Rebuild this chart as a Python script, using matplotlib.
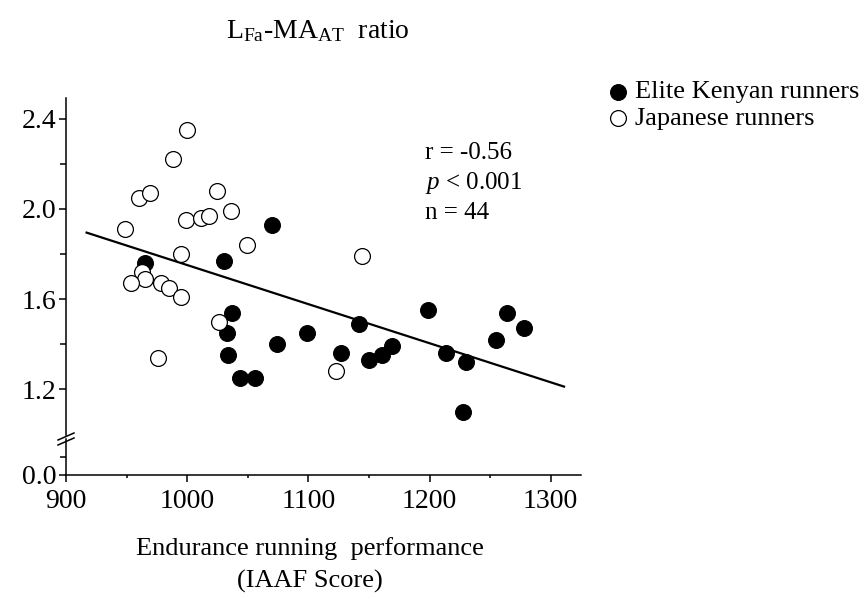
import matplotlib
matplotlib.use("Agg")
import matplotlib.pyplot as plt
from matplotlib.lines import Line2D

plt.rcParams['font.family'] = ['Liberation Serif', 'DejaVu Serif']
plt.rcParams['mathtext.fontset'] = 'custom'
plt.rcParams['mathtext.rm'] = 'Liberation Serif'
plt.rcParams['mathtext.it'] = 'Liberation Serif:italic'

# Данные
kenya_x = [965, 1030, 1070, 1037, 1033, 1034, 1044, 1056, 1074, 1099, 1127,
           1142, 1150, 1161, 1169, 1199, 1214, 1230, 1228, 1255, 1264, 1278]
kenya_y = [1.76, 1.77, 1.93, 1.54, 1.45, 1.35, 1.25, 1.25, 1.40, 1.45, 1.36,
           1.49, 1.33, 1.35, 1.39, 1.55, 1.36, 1.32, 1.10, 1.42, 1.54, 1.47]
japan_x = [1000, 988, 960, 969, 1025, 949, 999, 1011, 1018, 1036, 1049,
           995, 963, 965, 954, 978, 985, 995, 1026, 976, 1144, 1123]
japan_y = [2.35, 2.22, 2.05, 2.07, 2.08, 1.91, 1.95, 1.96, 1.97, 1.99, 1.84,
           1.80, 1.72, 1.69, 1.67, 1.67, 1.65, 1.61, 1.50, 1.34, 1.79, 1.28]
fit_x = [917, 1311]
fit_y = [1.895, 1.211]
yticks_top = [1.2, 1.6, 2.0, 2.4]
yminor_top = [1.4, 1.8, 2.2]
xticks = [900, 1000, 1100, 1200, 1300]
xminor = [950, 1050, 1150, 1250]

W, H = 867, 599
fig = plt.figure(figsize=(W / 100, H / 100), dpi=100)

# Две оси: верхняя (1.0-2.5) и нижняя (0.0) с разрывом
left = 66 / W
width = (581 - 66) / W
ax = fig.add_axes([left, 1 - 435 / H, width, (435 - 98) / H])
axb = fig.add_axes([left, 1 - 475 / H, width, (475 - 439) / H], sharex=ax)

ax.scatter(kenya_x, kenya_y, s=130, c='black', edgecolors='black',
           linewidths=0.8, zorder=3, label='Elite Kenyan runners')
ax.scatter(japan_x, japan_y, s=130, c='white', edgecolors='black',
           linewidths=0.9, zorder=4, label='Japanese runners')
ax.plot(fit_x, fit_y, color='black', lw=1.6, zorder=2)

ax.set_xlim(900, 1325)
ax.set_ylim(0.996, 2.493)
axb.set_ylim(0, 0.4)

for a in (ax, axb):
    a.spines['top'].set_visible(False)
    a.spines['right'].set_visible(False)
    a.spines['left'].set_linewidth(1.1)
    a.spines['bottom'].set_linewidth(1.1)
    a.tick_params(axis='y', which='major', direction='out', length=5,
                  width=1.1, labelsize=20, pad=2)
    a.tick_params(axis='y', which='minor', direction='out', length=4.3,
                  width=1.1)
    a.set_facecolor('none')

ax.spines['bottom'].set_visible(False)
ax.tick_params(axis='x', which='both', bottom=False, labelbottom=False)
ax.set_yticks(yticks_top)
ax.set_yticks(yminor_top, minor=True)
ax.set_yticklabels([f'{v:.1f}' for v in yticks_top])

axb.set_yticks([0.0])
axb.set_yticks([0.2], minor=True)
axb.set_yticklabels(['0.0'])
axb.set_xticks(xticks)
axb.set_xticks(xminor, minor=True)
axb.set_xticklabels([str(v) for v in xticks])
axb.tick_params(axis='x', which='major', direction='out', length=5,
                width=1.1, labelsize=20, pad=5)
axb.tick_params(axis='x', which='minor', direction='out', length=2.5,
                width=1.1)

# Значки разрыва оси
for dy in (0, 5):
    fig.add_artist(Line2D([58 / W, 74 / W],
                          [1 - (440 + dy) / H, 1 - (433 + dy) / H],
                          color='black', lw=1.1))

# Подписи
fig.text(318 / W, 1 - 31 / H, r'L$_{\mathrm{Fa}}$-MA$_{\mathrm{AT}}$  ratio',
         ha='center', va='center', fontsize=20)
fig.text(310 / W, 1 - 549 / H, 'Endurance running  performance',
         ha='center', va='center', fontsize=19)
fig.text(310 / W, 1 - 581 / H, '(IAAF Score)',
         ha='center', va='center', fontsize=19)

fig.text(425 / W, 1 - 153 / H, 'r = -0.56', ha='left', va='center', fontsize=18)
fig.text(425 / W, 1 - 183 / H, r'$p$ < 0.001', ha='left', va='center', fontsize=18)
fig.text(425 / W, 1 - 213 / H, 'n = 44', ha='left', va='center', fontsize=18)

ax.legend(loc='upper left', bbox_to_anchor=(609 / W, 1 - 80 / H),
          bbox_transform=fig.transFigure, frameon=False, fontsize=19,
          handlelength=0.7, handletextpad=0.3, labelspacing=0.12,
          borderpad=0, borderaxespad=0, scatterpoints=1)

fig.savefig('out.png', dpi=100)
